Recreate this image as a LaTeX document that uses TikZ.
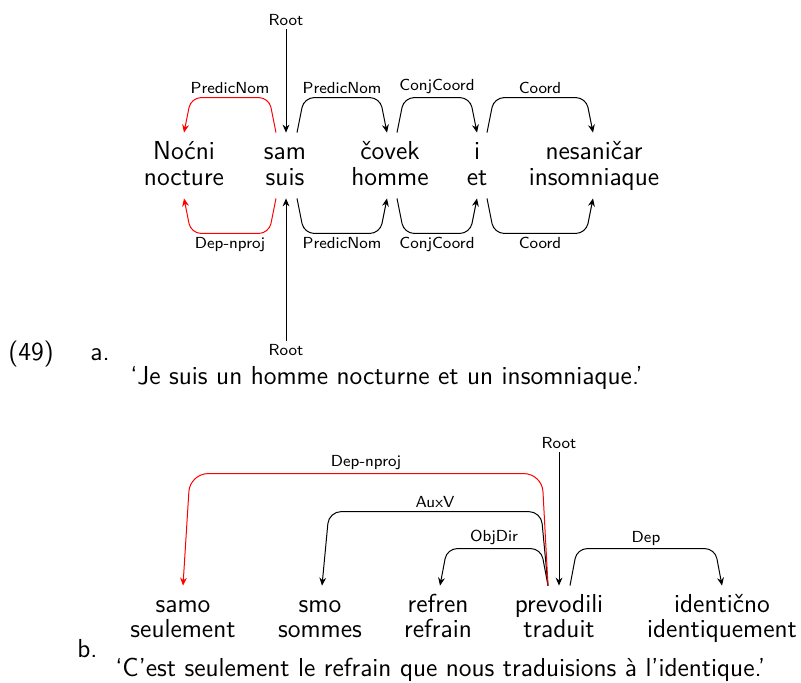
\documentclass[tikz,border=0pt]{standalone}
\usepackage{fontspec}
\usepackage{tikz}
\usetikzlibrary{arrows.meta,calc}
\usepackage{xcolor}
\definecolor{nproj}{RGB}{255,0,0}
\tikzset{
  word/.style={font=\sffamily\fontsize{13}{15}\selectfont, inner sep=0pt,
    text height=13pt, text depth=6.5pt, anchor=base},
  ex/.style={font=\sffamily\fontsize{13}{15}\selectfont, inner sep=0pt, anchor=base west},
  rel/.style={font=\sffamily\fontsize{8}{9}\selectfont, inner sep=1.5pt, text=black},
  dep/.style={line width=0.5pt, rounded corners=5pt,
    -{Stealth[length=4pt,width=3.4pt]}},
}

\begin{document}
\begin{tikzpicture}[x=0.5pt, y=-0.5pt]
\useasboundingbox (0,0) rectangle (801,682);
% (49a) words and glosses
\foreach \n/\w/\g/\x in {nocni/Noćni/nocture/184, sam/sam/suis/285,
    covek/čovek/homme/390, i/i/et/477, nesanicar/nesaničar/insomniaque/594}
  {\node[word] (\n) at (\x,159) {\w};
   \node[word] (\g) at (\x,185) {\g};}
\node[rel] (roota) at (286,20) {Root};
\draw[dep] (roota.south) -- (roota.south |- sam.north);
\draw[dep,nproj] ($(sam.north)+(-9,0)$) -- ++(-7,-35)
  -- ($(nocni.north)+(7,-35)$) node[rel,midway,above] {PredicNom} -- (nocni.north);
\draw[dep] ($(sam.north)+(12,0)$) -- ++(7,-35)
  -- ($(covek.north)+(-10,-35)$) node[rel,midway,above] {PredicNom} -- ($(covek.north)+(-3,0)$);
\draw[dep] ($(covek.north)+(7,0)$) -- ++(7,-35)
  -- ($(i.north)+(-7,-35)$) node[rel,midway,above] {ConjCoord} -- (i.north);
\draw[dep] ($(i.north)+(10,0)$) -- ++(7,-35)
  -- ($(nesanicar.north)+(-8,-35)$) node[rel,midway,above] {Coord} -- ($(nesanicar.north)+(-1,0)$);
% same tree below the glosses
\node[rel] (rootab) at (286,350) {Root};
\draw[dep] (rootab.north) -- (rootab.north |- suis.south);
\draw[dep,nproj] ($(suis.south)+(-9,0)$) -- ++(-7,35)
  -- ($(nocture.south)+(7,35)$) node[rel,midway,below] {Dep-nproj} -- (nocture.south);
\draw[dep] ($(suis.south)+(12,0)$) -- ++(7,35)
  -- ($(homme.south)+(-10,35)$) node[rel,midway,below] {PredicNom} -- ($(homme.south)+(-3,0)$);
\draw[dep] ($(homme.south)+(7,0)$) -- ++(7,35)
  -- ($(et.south)+(-7,35)$) node[rel,midway,below] {ConjCoord} -- (et.south);
\draw[dep] ($(et.south)+(10,0)$) -- ++(7,35)
  -- ($(insomniaque.south)+(-8,35)$) node[rel,midway,below] {Coord} -- ($(insomniaque.south)+(-1,0)$);
\node[ex] (num) at (8,360) {(49)};
\node[ex] (suba) at (90,360) {a.};
\node[ex] (trada) at (130,384) {‘Je suis un homme nocturne et un insomniaque.’};
% (49b)
\foreach \n/\w/\g/\x in {samo/samo/seulement/183, smo/smo/sommes/320,
    refren/refren/refrain/438, prevodili/prevodili/traduit/559,
    identicno/identično/identiquement/722}
  {\node[word] (\n) at (\x,612) {\w};
   \node[word] (\g) at (\x,637) {\g};}
\node[rel] (rootb) at (559,443) {Root};
\draw[dep] (rootb.south) -- (rootb.south |- prevodili.north);
\draw[dep,rounded corners=6pt] ($(prevodili.north)+(-11,0)$) -- ++(-7,-74)
  -- ($(smo.north)+(9,-74)$) node[rel,midway,above] {AuxV} -- ($(smo.north)+(2,0)$);
\draw[dep] ($(prevodili.north)+(-11,0)$) -- ++(-7,-37)
  -- ($(refren.north)+(9,-37)$) node[rel,midway,above] {ObjDir} -- ($(refren.north)+(2,0)$);
\draw[dep,nproj,rounded corners=9pt] ($(prevodili.north)+(-11,0)$) -- ++(-6,-112)
  -- ($(samo.north)+(7,-112)$) node[rel,midway,above] {Dep-nproj} -- (samo.north);
\draw[dep] ($(prevodili.north)+(11,0)$) -- ++(7,-37)
  -- ($(identicno.north)+(-7,-37)$) node[rel,midway,above] {Dep} -- (identicno.north);
\node[ex] (subb) at (77,657) {b.};
\node[ex] (tradb) at (115,676) {‘C’est seulement le refrain que nous traduisions à l’identique.’};
\end{tikzpicture}
\end{document}
